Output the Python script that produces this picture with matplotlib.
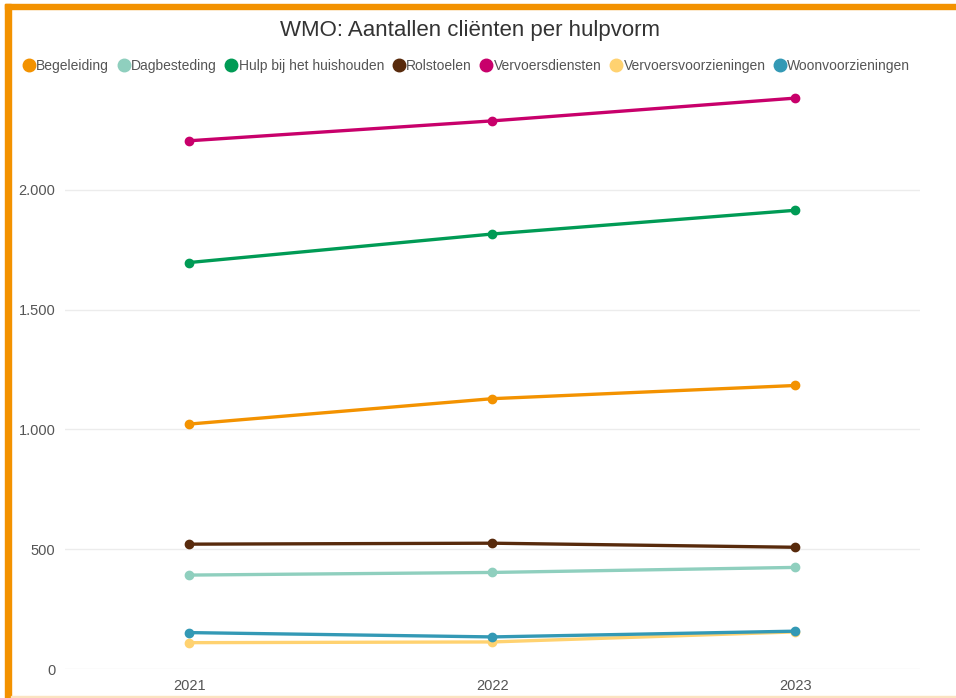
import matplotlib
matplotlib.use("Agg")
import matplotlib.pyplot as plt
from matplotlib.patches import Rectangle
from matplotlib.lines import Line2D
from matplotlib.ticker import FuncFormatter

plt.rcParams['font.family'] = ['Liberation Sans', 'DejaVu Sans']

years = ["2021", "2022", "2023"]
series_names = ["Begeleiding", "Dagbesteding", "Hulp bij het huishouden", "Rolstoelen",
                "Vervoersdiensten", "Vervoersvoorzieningen", "Woonvoorzieningen"]
begeleiding = [1022, 1128, 1183]
dagbesteding = [392, 403, 424]
hulp = [1696, 1815, 1914]
rolstoelen = [521, 525, 508]
vervoersdiensten = [2204, 2287, 2382]
vervoersvoorzieningen = [110, 113, 155]
woonvoorzieningen = [152, 134, 158]
colors = ["#F39200", "#8FCFBE", "#009B55", "#582A0C", "#C8006B", "#FFD270", "#3399B5"]
yticks = [0, 500, 1000, 1500, 2000]

values = [begeleiding, dagbesteding, hulp, rolstoelen, vervoersdiensten,
          vervoersvoorzieningen, woonvoorzieningen]
# drawing order: small values under
draw_order = [5, 6, 1, 3, 0, 2, 4]

fig = plt.figure(figsize=(9.56, 6.98), dpi=100)
ax = fig.add_axes([0.068, 0.0415, 0.894, 0.831])

x = list(range(len(years)))
for i in draw_order:
    ax.plot(x, values[i], color=colors[i], linewidth=2.4, marker='o', markersize=6,
            solid_capstyle='round', zorder=3)

ax.set_xlim(-0.41, 2.41)
ax.set_ylim(0, 2420)
ax.set_xticks(x)
ax.set_xticklabels(years)
ax.set_yticks(yticks)
ax.yaxis.set_major_formatter(FuncFormatter(lambda v, p: f"{int(v):,}".replace(",", ".")))
ax.tick_params(axis='both', length=0, labelsize=10.5, colors='#555555')
ax.tick_params(axis='y', pad=7)
ax.tick_params(axis='x', pad=7)
ax.grid(axis='y', color='#ececec', linewidth=1)
ax.set_axisbelow(True)
for s in ax.spines.values():
    s.set_visible(False)

fig.text(0.492, 0.957, "WMO: Aantallen cliënten per hulpvorm", ha='center', va='center',
         fontsize=16, color='#333333')

handles = [Line2D([], [], linestyle='none', marker='o', markersize=9, color=c) for c in colors]
fig.legend(handles, series_names, loc='center', bbox_to_anchor=(0.488, 0.905), ncol=7,
           frameon=False, fontsize=10, handletextpad=0.08, columnspacing=0.6,
           handlelength=0.9, labelcolor='#555555', borderaxespad=0)

# orange border
fig.patches.append(Rectangle((5/956, 0), 6/956, 1 - 4/698, transform=fig.transFigure,
                             color='#F39200', zorder=10))
fig.patches.append(Rectangle((5/956, 1 - 9/698), 1, 5/698, transform=fig.transFigure,
                             color='#F39200', zorder=10))
fig.patches.append(Rectangle((11/956, 0), 1, 2/698, transform=fig.transFigure,
                             color='#FBE3C0', zorder=10))

fig.savefig("out.png", dpi=100, facecolor='white')
